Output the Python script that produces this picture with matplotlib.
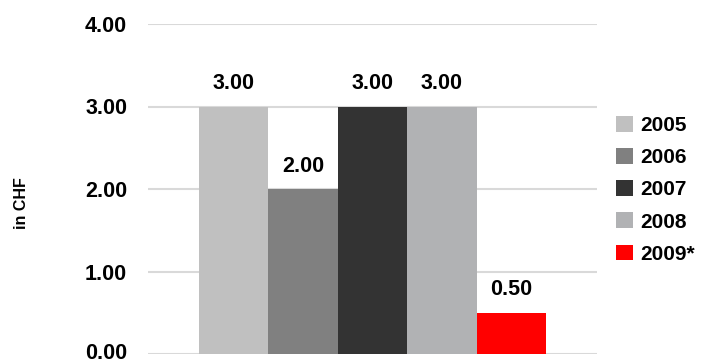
import matplotlib.pyplot as plt
import matplotlib.transforms as mtransforms
from matplotlib.patches import Patch

plt.rcParams['font.family'] = ['Liberation Sans', 'DejaVu Sans']
plt.rcParams['font.weight'] = 'bold'

# ─────────────────────────────────────────
# DATA
# ─────────────────────────────────────────
years  = ['2005', '2006', '2007', '2008', '2009*']
values = [3.00, 2.00, 3.00, 3.00, 0.50]
colors = ['#C0C0C0', '#808080', '#333333', '#B1B2B4', '#FF0000']
y_ticks = [0, 1, 2, 3, 4]

fig = plt.figure(figsize=(7.03, 3.63), dpi=100)
ax = fig.add_axes([148/703, 1 - 354/363, 449/703, 330/363])

x = list(range(len(years)))
bars = ax.bar(x, values, width=1.0, color=colors, edgecolor='none', zorder=2)

for bar, val in zip(bars, values):
    ax.annotate(f'{val:.2f}', (bar.get_x() + bar.get_width()/2, val),
                xytext=(0, 9), textcoords='offset points',
                ha='center', va='bottom', fontsize=15.5, fontweight='bold')

ax.set_ylim(0, 4)
ax.set_xlim(-1.235, 5.235)
ax.set_yticks(y_ticks)
ax.set_yticklabels([f'{t:.2f}' for t in y_ticks], fontsize=15.5, fontweight='bold')
ax.tick_params(axis='y', length=0, pad=15)
ax.set_xticks([])
ax.yaxis.grid(True, color='#D9D9D9', linewidth=1.5, zorder=0)
ax.set_axisbelow(True)
for s in ax.spines.values():
    s.set_visible(False)

# nudge the bottom tick label up a bit so it stays inside the figure
lbl0 = ax.get_yticklabels()[0]
lbl0.set_transform(lbl0.get_transform() +
                   mtransforms.ScaledTranslation(0, 3/100, fig.dpi_scale_trans))

fig.text(22/703, 1 - 203/363, 'in CHF', rotation=90, ha='center', va='center',
         fontsize=11.5, fontweight='bold')

handles = [Patch(facecolor=c, edgecolor='none') for c in colors]
fig.legend(handles, years, loc='upper left', bbox_to_anchor=(616/703, 1 - 116/363),
           frameon=False, fontsize=15, handlelength=0.8, handleheight=0.8,
           handletextpad=0.35, labelspacing=0.62, borderaxespad=0, borderpad=0)

plt.savefig('out.png', dpi=100)
